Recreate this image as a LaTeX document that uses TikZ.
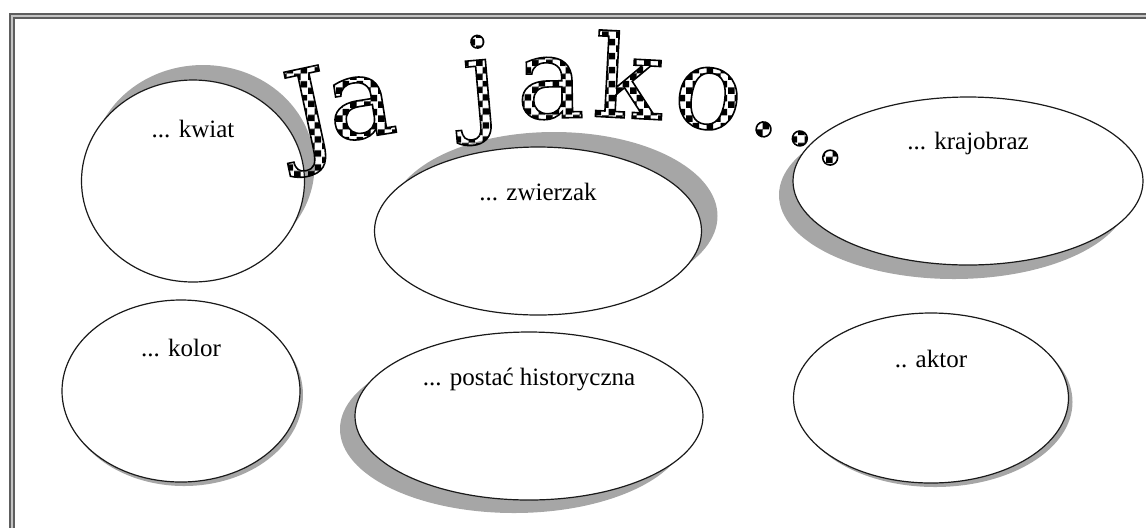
\documentclass[tikz,border=0pt]{standalone}
\usepackage{fontspec}
\setmainfont{Liberation Serif}
\newfontfamily\titlefont{DejaVu Serif}
\usepackage{tikz}
\usetikzlibrary{shapes.geometric,shadows,calc,patterns}
\definecolor{ink}{HTML}{1A1A1A}
\definecolor{shadowgrey}{HTML}{A6A6A6}
\definecolor{framedark}{HTML}{5E5E5E}
\definecolor{framelight}{HTML}{C4C4C4}
% checker tiles for the title letters
\pgfdeclarepatternformonly{bigcheck}{\pgfpointorigin}{\pgfpoint{7pt}{7pt}}{\pgfpoint{7pt}{7pt}}{%
  \pgfpathrectangle{\pgfpointorigin}{\pgfpoint{3.5pt}{3.5pt}}%
  \pgfpathrectangle{\pgfpoint{3.5pt}{3.5pt}}{\pgfpoint{3.5pt}{3.5pt}}%
  \pgfusepath{fill}}
\newcommand\checkglyph[1]{\special{pdf:literal direct 2 Tr 0.8 w}\pgfsetfillpattern{bigcheck}{black}#1\special{pdf:literal direct 0 Tr}}

\begin{document}
\begin{tikzpicture}[
  x=0.5pt, y=-0.5pt,
  frame/.style={draw=framedark, double=framelight, line width=0.8pt, double distance=1.1pt},
  bubble/.style={ellipse, draw=ink, line width=0.6pt, fill=white, inner sep=0pt},
  cast/.style 2 args={drop shadow={shadow xshift=#1, shadow yshift=#2, fill=shadowgrey, opacity=1}},
  lbl/.style={font=\fontsize{12.5}{14}\selectfont, inner sep=1pt},
  glyph/.style={font=\titlefont\fontsize{57}{62}\selectfont, inner sep=0pt, anchor=base}
]
  \clip (0,0) rectangle (1146,527);
  \draw[frame] (12,16) rectangle (1200,600);

  \node[bubble, cast={5pt}{7.5pt}, minimum width=111.5pt, minimum height=101pt] (kwiat) at (193,181) {};
  \node[bubble, cast={8pt}{7.5pt}, minimum width=163.5pt, minimum height=84pt] (zwierzak) at (538,231) {};
  \node[bubble, cast={-7pt}{-7pt}, minimum width=175pt, minimum height=84pt] (krajobraz) at (968,181) {};
  \node[bubble, cast={1.5pt}{-2pt}, minimum width=119pt, minimum height=91pt] (kolor) at (181,391) {};
  \node[bubble, cast={-7.5pt}{-6.5pt}, minimum width=174pt, minimum height=84pt] (postac) at (529,416) {};
  \node[bubble, cast={2pt}{-2pt}, minimum width=137.5pt, minimum height=85pt] (aktor) at (931,398) {};

  \node[lbl] (kwiatlbl) at ($(kwiat.north)+(0,50)$) {... kwiat};
  \node[lbl] (zwierzaklbl) at ($(zwierzak.north)+(0,46)$) {... zwierzak};
  \node[lbl] (krajobrazlbl) at ($(krajobraz.north)+(0,47)$) {... krajobraz};
  \node[lbl] (kolorlbl) at ($(kolor.north)+(0,49)$) {... kolor};
  \node[lbl] (postaclbl) at ($(postac.north)+(0,48)$) {... postać historyczna};
  \node[lbl] (aktorlbl) at ($(aktor.north)+(0,47)$) {.. aktor};

  % title letters along the arch
  \node[glyph, rotate=12] (titleJ) at (318,150) {\checkglyph{J}};
  \node[glyph, rotate=9] (titlea) at (366,137) {\checkglyph{a}};
  \node[glyph, rotate=5] (titlej) at (484,119) {\checkglyph{j}};
  \node[glyph, rotate=1] (titleaa) at (551,118) {\checkglyph{a}};
  \node[glyph, rotate=-3] (titlek) at (626,118) {\checkglyph{k}};
  \node[glyph, rotate=-8] (titleo) at (704,128) {\checkglyph{o}};
  \node[glyph, rotate=-15] (titledot) at (762,135) {\checkglyph{.}};
  \node[glyph, rotate=-18] (titledotdot) at (798,144) {\checkglyph{.}};
  \node[glyph, rotate=-22] (titledots) at (828,163) {\checkglyph{.}};
\end{tikzpicture}
\end{document}
